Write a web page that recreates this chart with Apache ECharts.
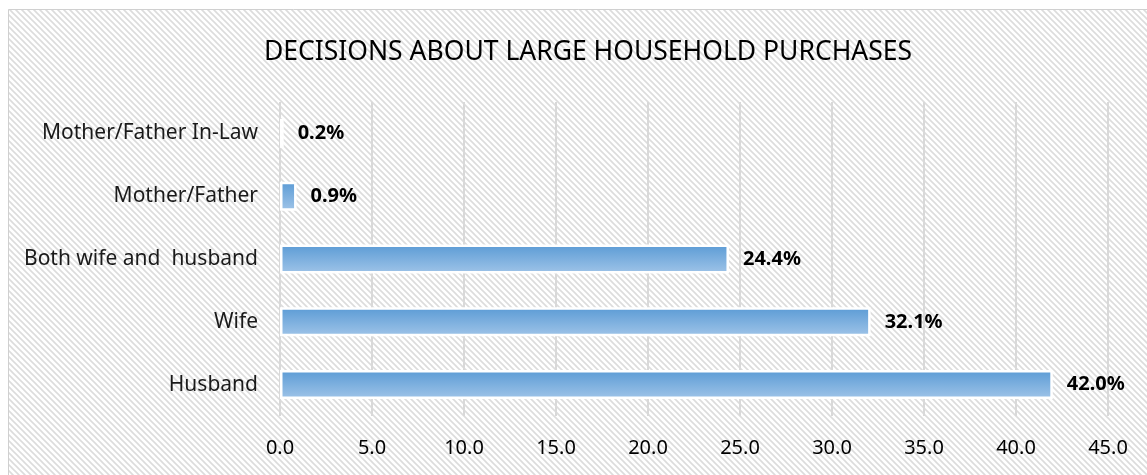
<!DOCTYPE html>
<html>
<head>
<meta charset="utf-8">
<script src="https://cdn.jsdelivr.net/npm/echarts@6/dist/echarts.min.js"></script>
<style>
  html, body { margin: 0; padding: 0; background: #fff; }
  #chart { width: 1147px; height: 475px; }
</style>
</head>
<body>
<div id="chart"></div>
<script>
var categories = ['Husband', 'Wife', 'Both wife and  husband', 'Mother/Father', 'Mother/Father In-Law'];
var shares = [42.0, 32.1, 24.4, 0.9, 0.2];
var xTicks = [0, 5, 10, 15, 20, 25, 30, 35, 40, 45];

// diagonal hatch used as the plot background
function makeHatch() {
  var c = document.createElement('canvas');
  c.width = 6; c.height = 6;
  var ctx = c.getContext('2d');
  ctx.fillStyle = '#ffffff';
  ctx.fillRect(0, 0, 6, 6);
  ctx.strokeStyle = '#dcdcdc';
  ctx.lineWidth = 1.6;
  ctx.beginPath();
  ctx.moveTo(-3, -3); ctx.lineTo(9, 9);
  ctx.moveTo(-3, 3); ctx.lineTo(3, 9);
  ctx.moveTo(3, -3); ctx.lineTo(9, 3);
  ctx.stroke();
  return c;
}

var chart = echarts.init(document.getElementById('chart'));
var option = {
  animation: false,
  backgroundColor: '#fff',
  graphic: [{
    type: 'rect',
    z: -10,
    silent: true,
    shape: { x: 8.5, y: 9.5, width: 1150, height: 480 },
    style: { fill: { image: makeHatch(), repeat: 'repeat' }, stroke: '#d0d0d0', lineWidth: 1 }
  }],
  title: {
    text: 'DECISIONS ABOUT LARGE HOUSEHOLD PURCHASES',
    left: 583,
    textAlign: 'center',
    top: 34,
    textStyle: {
      fontFamily: 'Noto Sans',
      fontSize: 26.5,
      fontWeight: 'normal',
      color: '#000'
    }
  },
  grid: {
    left: 280,
    right: 39,
    top: 102,
    bottom: 59
  },
  xAxis: {
    type: 'value',
    min: xTicks[0],
    max: xTicks[xTicks.length - 1],
    interval: 5,
    axisLine: { show: false },
    axisTick: { show: false },
    splitLine: { lineStyle: { color: '#d9d9d9', width: 2 } },
    axisLabel: {
      margin: 22,
      fontFamily: 'Noto Sans',
      fontSize: 20,
      color: '#000',
      formatter: function (v) { return v.toFixed(1); }
    }
  },
  yAxis: {
    type: 'category',
    data: categories,
    axisLine: { show: false },
    axisTick: { show: false },
    axisLabel: {
      margin: 22,
      fontFamily: 'Noto Sans',
      fontSize: 21,
      color: '#1a1a1a'
    }
  },
  series: [{
    type: 'bar',
    data: shares,
    barWidth: 29,
    itemStyle: {
      color: new echarts.graphic.LinearGradient(0, 0, 0, 1, [
        { offset: 0, color: '#5b9bd5' },
        { offset: 1, color: '#9fc4e8' }
      ]),
      borderColor: '#ffffff',
      borderWidth: 2.5
    },
    label: {
      show: true,
      position: 'right',
      distance: 14,
      fontFamily: 'Noto Sans',
      fontWeight: 'bold',
      fontSize: 20,
      color: '#000',
      formatter: function (p) { return p.value.toFixed(1) + '%'; }
    }
  }]
};
chart.setOption(option);
</script>
</body>
</html>
